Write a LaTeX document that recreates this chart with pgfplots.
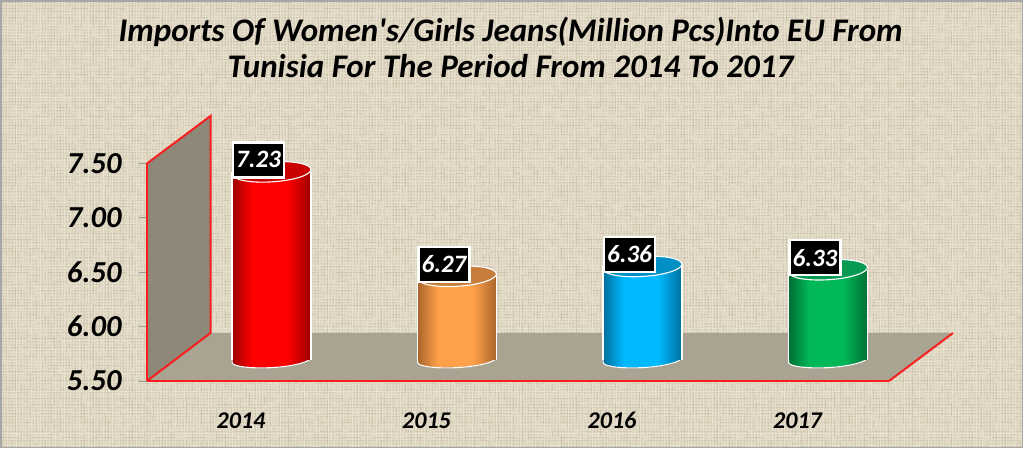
\documentclass[border=0pt]{standalone}
\usepackage{pgfplots}
\pgfplotsset{compat=1.18}
\usepackage{fontspec}
\setmainfont{Carlito}[Ligatures=TeXOff]
\definecolor{bgbase}{HTML}{E0D7C3}
\definecolor{bgdark}{HTML}{BDB39C}
\definecolor{bglight}{HTML}{EDE6D6}
\definecolor{floorc}{HTML}{A9A392}
\definecolor{wallc}{HTML}{8E8878}
\definecolor{framec}{HTML}{A6A6A6}
\definecolor{axred}{HTML}{FA1E1E}
\definecolor{rB}{HTML}{FF0000}\definecolor{rD}{HTML}{9C0000}\definecolor{rT}{HTML}{C80000}
\definecolor{oB}{HTML}{FFA04A}\definecolor{oD}{HTML}{A8652B}\definecolor{oT}{HTML}{C77D3C}
\definecolor{bB}{HTML}{00B9FF}\definecolor{bD}{HTML}{006F9C}\definecolor{bT}{HTML}{0090C6}
\definecolor{gB}{HTML}{00B857}\definecolor{gD}{HTML}{006E36}\definecolor{gT}{HTML}{069A52}
\newcommand\defcyl[3]{%
  \pgfdeclarehorizontalshading{cyl#1}{100bp}{color(0bp)=(#2); color(25bp)=(#2); color(38bp)=(#1); color(60bp)=(#1); color(75bp)=(#2); color(100bp)=(#2)}%
  \pgfdeclareplotmark{base#1}{%
    \path[shading=cyl#1] (-39.5pt,5pt) -- (-39.42pt,-2.48pt) .. controls (-39.09pt,-6.4pt) and (-21.16pt,-8.8pt) .. (0.6pt,-7.6pt) .. controls (22.35pt,-6.4pt) and (39.45pt,-1.6pt) .. (39.42pt,2.48pt) -- (39.5pt,5pt) -- cycle;
    \draw[white,line width=1.1pt] (-39.5pt,5pt) -- (-39.42pt,-2.48pt) .. controls (-39.09pt,-6.4pt) and (-21.16pt,-8.8pt) .. (0.6pt,-7.6pt) .. controls (22.35pt,-6.4pt) and (39.45pt,-1.6pt) .. (39.42pt,2.48pt) -- (39.5pt,5pt);
  }%
  \pgfdeclareplotmark{top#1}{%
    \pgftransformrotate{3.6}%
    \pgfsetfillcolor{#3}\pgfsetstrokecolor{white}\pgfsetlinewidth{1.1pt}%
    \pgfpathellipse{\pgfpointorigin}{\pgfqpoint{39.5pt}{0pt}}{\pgfqpoint{0pt}{10pt}}%
    \pgfusepath{fill,stroke}%
  }%
}
\defcyl{rB}{rD}{rT}
\defcyl{oB}{oD}{oT}
\defcyl{bB}{bD}{bT}
\defcyl{gB}{gD}{gT}
\newcommand\cylbase[2]{%
  \addplot[only marks,mark=base#1,mark options={solid}] coordinates {(#2,5.5)};
}
% #1 colour, #2 x, #3 value, #4 and #5 the x of the left and right edge
\newcommand\cyl[5]{%
  \addplot[ybar,bar width=79pt,bar shift=0pt,draw=none,shading=cyl#1] coordinates {(#2,#3)};
  \addplot[white,line width=1.1pt,mark=none] coordinates {(#4,5.5) (#4,#3)};
  \addplot[white,line width=1.1pt,mark=none] coordinates {(#5,5.5) (#5,#3)};
  \addplot[only marks,mark=top#1,mark options={solid}] coordinates {(#2,#3)};
  \addplot[only marks,mark=none,
    point meta=y,
    nodes near coords={\pgfmathprintnumber[fixed,fixed zerofill,precision=2,assume math mode=true]{\pgfplotspointmeta}},
    nodes near coords style={anchor=center,xshift=-13pt,yshift=12pt,fill=black,text=white,draw=white,line width=2.5pt,
      minimum width=51pt,minimum height=35pt,inner sep=0pt,font=\fontsize{25}{25}\selectfont\bfseries\itshape}] coordinates {(#2,#3)};
}
\begin{document}
\begin{tikzpicture}
\useasboundingbox (0,0) rectangle (1024pt,449pt);
\begin{scope}[x=1pt,y=-1pt,shift={(0,449pt)}]
  \fill[white] (0,0) rectangle (1024,449);
  \begin{scope}
    \clip (1.5,1.5) rectangle (1022,447);
    \fill[bgbase] (0,0) rectangle (1024,449);
    \foreach \i in {0,...,149} {
      \pgfmathsetmacro\op{0.08+0.42*mod(\i*7,11)/10}
      \pgfmathsetmacro\da{7+mod(\i*13,29)}
      \pgfmathsetmacro\db{3+mod(\i*11,17)}
      \draw[bgdark,opacity=\op,line width=1pt,dash pattern=on \da pt off \db pt] (0,{\i*3}) -- (1024,{\i*3});
      \pgfmathsetmacro\ol{0.15+0.45*mod(\i*5,7)/6}
      \draw[bglight,opacity=\ol,line width=0.8pt] (0,{\i*3+1.5}) -- (1024,{\i*3+1.5});
    }
    \foreach \i in {0,...,341} {
      \pgfmathsetmacro\op{0.08+0.38*mod(\i*5,13)/12}
      \pgfmathsetmacro\da{6+mod(\i*17,23)}
      \pgfmathsetmacro\db{3+mod(\i*7,19)}
      \draw[bgdark,opacity=\op,line width=1pt,dash pattern=on \da pt off \db pt] ({\i*3},0) -- ({\i*3},449);
      \pgfmathsetmacro\ol{0.15+0.45*mod(\i*3,8)/7}
      \draw[bglight,opacity=\ol,line width=0.8pt] ({\i*3+1.5},0) -- ({\i*3+1.5},449);
    }
  \end{scope}
  \draw[framec,line width=1.5pt] (1.2,1.2) rectangle (1022.5,447.5);
  \fill[floorc] (147,381) -- (210.5,333) -- (953,333) -- (889,381) -- cycle;
  \fill[wallc] (147,163.5) -- (210.5,116) -- (210.5,333) -- (147,381) -- cycle;
  \draw[axred,line width=2pt] (147,381) -- (210.5,333) -- (210.5,116) -- (147,163.5);
  \draw[axred,line width=2pt] (889,381) -- (953,333);
\end{scope}
% scale and labels
\begin{axis}[
  at={(147pt,68pt)},anchor=south west,
  scale only axis,width=742pt,height=217.5pt,
  xmin=-0.5067,xmax=3.4933,ymin=5.5,ymax=7.5,
  axis lines=left,
  axis line style={axred,line width=2pt,-},
  xtick={0,1,2,3},xticklabels={2014,2015,2016,2017},
  ytick={5.5,6,6.5,7,7.5},
  /pgf/number format/assume math mode=true,
  /pgf/number format/fixed,/pgf/number format/fixed zerofill,/pgf/number format/precision=2,
  tick align=outside,
  x tick style={draw=none},
  y tick style={draw=gray!80,line width=0.8pt},
  major tick length=8pt,
  xticklabel style={font=\fontsize{24}{24}\selectfont\bfseries\itshape,yshift=-20pt},
  yticklabel style={font=\fontsize{30.5}{30.5}\selectfont\bfseries\itshape,xshift=-14pt},
  title={Imports Of Women's/Girls Jeans(Million Pcs)Into EU From\\Tunisia For The Period From 2014 To 2017},
  title style={at={(0.49,1.507)},anchor=center,align=center,inner sep=0pt,
    font=\fontsize{33}{36}\selectfont\bfseries\itshape},
]
\end{axis}
% cylinder feet, under the bodies
\begin{axis}[
  at={(177.5pt,89pt)},anchor=south west,
  scale only axis,width=742pt,height=217.5pt,
  xmin=-0.5067,xmax=3.4933,ymin=5.5,ymax=7.5,
  hide axis,clip=false,
]
\cylbase{rB}{0}
\cylbase{oB}{1}
\cylbase{bB}{2}
\cylbase{gB}{3}
\end{axis}
% cylinders, standing at the depth of the floor
\begin{axis}[
  at={(177.5pt,89pt)},anchor=south west,
  scale only axis,width=742pt,height=217.5pt,
  xmin=-0.5067,xmax=3.4933,ymin=5.5,ymax=7.5,
  hide axis,clip=false,
  /pgf/number format/assume math mode=true,
]
\cyl{rB}{0}{7.23}{-0.2129}{0.2129}
\cyl{oB}{1}{6.27}{0.7871}{1.2129}
\cyl{bB}{2}{6.36}{1.7871}{2.2129}
\cyl{gB}{3}{6.33}{2.7871}{3.2129}
\end{axis}
\end{tikzpicture}
\end{document}
